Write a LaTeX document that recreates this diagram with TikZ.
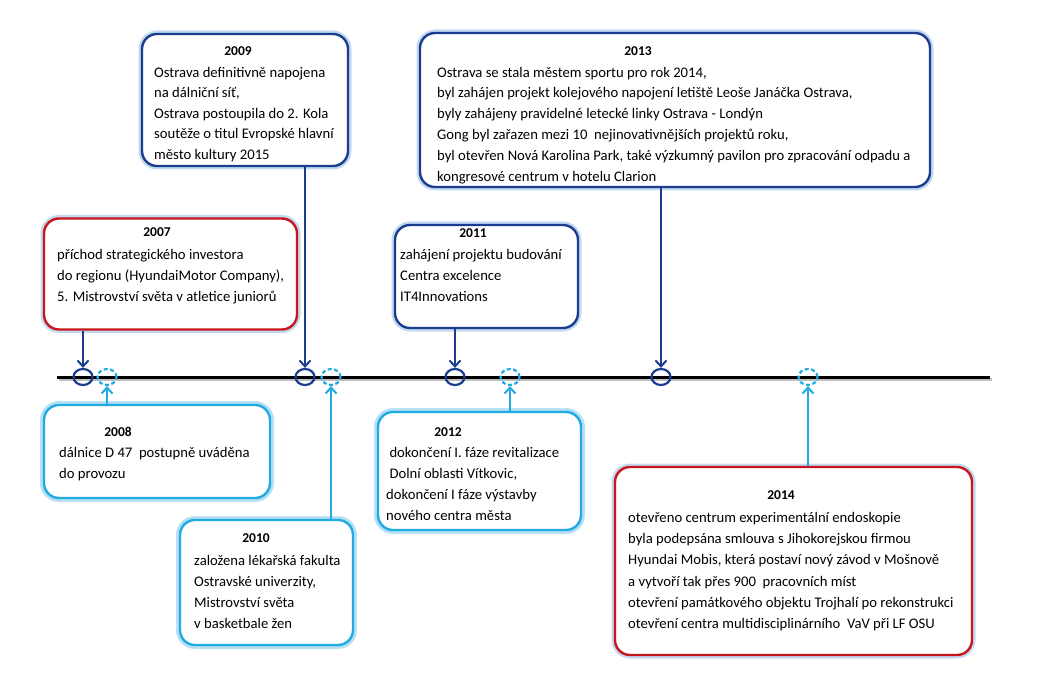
\documentclass[tikz,border=0pt]{standalone}
\usepackage{fontspec}
\setmainfont{Carlito}
\usetikzlibrary{arrows.meta,shapes.geometric}
\definecolor{dblue}{HTML}{1B3C8F}
\definecolor{lblue}{HTML}{22AAE2}
\definecolor{bred}{HTML}{C8161D}
\definecolor{glow}{HTML}{A9C9EA}
\newcommand{\fl}{\rule{0pt}{12pt}}
\tikzset{
  box/.style={rectangle, rounded corners=15pt, fill=white, line width=2.4pt, inner sep=0pt,
    preaction={draw=glow, line width=7pt, opacity=0.7}},
  dbox/.style={box, draw=dblue},
  cbox/.style={box, draw=lblue, preaction={draw=lblue!35, line width=8pt, opacity=0.8}},
  rbox/.style={box, draw=bred},
  txt/.style={anchor=north west, inner sep=0pt, align=left, font=\fontsize{14.67}{21}\selectfont},
  yr/.style={anchor=center, inner sep=0pt, font=\fontsize{13.5}{15}\selectfont\bfseries},
  dcirc/.style={ellipse, draw=dblue, line width=2.2pt, minimum width=19pt, minimum height=16pt, inner sep=0pt},
  ccirc/.style={ellipse, draw=lblue, line width=2.2pt, dash pattern=on 4pt off 2.5pt, minimum width=19pt, minimum height=16pt, inner sep=0pt},
  darr/.style={draw=dblue, line width=2.4pt, -{Straight Barb[length=6pt,width=11pt,line width=2pt]}},
  carr/.style={draw=lblue, line width=2.4pt, -{Straight Barb[length=6pt,width=11pt,line width=2pt]}},
}
\begin{document}
\begin{tikzpicture}[x=1pt,y=-1pt]
\useasboundingbox (0,0) rectangle (1050,679);
% timeline
\coordinate (ls) at (57,377);
\coordinate (le) at (990,377);
\draw[line width=3pt, gray!50] ([shift={(1.5,2)}]ls) -- ([shift={(1.5,2)}]le);
\draw[line width=3pt, black] (ls) -- (le);
% circles
\node[dcirc] (c2007) at (83,377) {};
\node[ccirc] (c2008) at (107,377) {};
\node[dcirc] (c2009) at (305,377) {};
\node[ccirc] (c2010) at (331,377) {};
\node[dcirc] (c2011) at (455,377) {};
\node[ccirc] (c2012) at (510,377) {};
\node[dcirc] (c2013) at (661,377) {};
\node[ccirc] (c2014) at (808,377) {};
% boxes
\node[rbox, minimum width=253pt, minimum height=111pt] (b2007) at (170.5,274) {};
\node[dbox, minimum width=206pt, minimum height=132pt] (b2009) at (245,100) {};
\node[dbox, minimum width=183pt, minimum height=103pt] (b2011) at (486.5,276.5) {};
\node[dbox, minimum width=510pt, minimum height=154pt] (b2013) at (675,110) {};
\node[cbox, minimum width=226pt, minimum height=93pt] (b2008) at (157,451.5) {};
\node[cbox, minimum width=173pt, minimum height=125pt] (b2010) at (266.5,582.5) {};
\node[cbox, minimum width=203pt, minimum height=118pt] (b2012) at (479.5,471) {};
\node[rbox, minimum width=357pt, minimum height=188pt] (b2014) at (793.5,561) {};
% years
\node[yr] (y2007) at (157,232) {2007};
\node[yr] (y2009) at (238,51) {2009};
\node[yr] (y2011) at (473,233) {2011};
\node[yr] (y2013) at (638,51) {2013};
\node[yr] (y2008) at (118,432) {2008};
\node[yr] (y2010) at (256,538) {2010};
\node[yr] (y2012) at (448,432) {2012};
\node[yr] (y2014) at (781,495) {2014};
% texts (first baseline = y + 12)
\node[txt] (t2007) at (57,247) {\fl příchod strategického investora\\do regionu (HyundaiMotor Company),\\5. Mistrovství světa v atletice juniorů};
\node[txt, font=\fontsize{14.67}{20.5}\selectfont] (t2009) at (154,65) {\fl Ostrava definitivně napojena\\na dálniční síť,\\Ostrava postoupila do 2. Kola\\soutěže o titul Evropské hlavní\\město kultury 2015};
\node[txt] (t2011) at (400,247) {\fl zahájení projektu budování\\Centra excelence\\IT4Innovations};
\node[txt, font=\fontsize{14.67}{20.8}\selectfont] (t2013) at (437,65) {\fl Ostrava se stala městem sportu pro rok 2014,\\byl zahájen projekt kolejového napojení letiště Leoše Janáčka Ostrava,\\byly zahájeny pravidelné letecké linky Ostrava - Londýn\\Gong byl zařazen mezi 10 \ nejinovativnějších projektů roku,\\byl otevřen Nová Karolina Park, také výzkumný pavilon pro zpracování odpadu a\\kongresové centrum v hotelu Clarion};
\node[txt] (t2008) at (59,445) {\fl dálnice D 47 \ postupně uváděna\\do provozu};
\node[txt] (t2010) at (194,553) {\fl založena lékařská fakulta\\Ostravské univerzity,\\Mistrovství světa\\v basketbale žen};
\node[txt] (t2012) at (386,445) {\fl\ dokončení I. fáze revitalizace\\\ Dolní oblasti Vítkovic,\\dokončení I fáze výstavby\\nového centra města};
\node[txt, font=\fontsize{14.67}{21.3}\selectfont] (t2014) at (628,510) {\fl otevřeno centrum experimentální endoskopie\\byla podepsána smlouva s Jihokorejskou firmou\\Hyundai Mobis, která postaví nový závod v Mošnově\\a vytvoří tak přes 900 \ pracovních míst\\otevření památkového objektu Trojhalí po rekonstrukci\\otevření centra multidisciplinárního \ VaV při LF OSU};
% arrows
\draw[darr] (b2007.south -| c2007) -- (c2007.north);
\draw[darr] (b2009.south -| c2009) -- (c2009.north);
\draw[darr] (b2011.south -| c2011) -- (c2011.north);
\draw[darr] (b2013.south -| c2013) -- (c2013.north);
\draw[carr] (b2008.north -| c2008) -- (c2008.south);
\draw[carr] (b2010.north -| c2010) -- (c2010.south);
\draw[carr] (b2012.north -| c2012) -- (c2012.south);
\draw[carr] (b2014.north -| c2014) -- (c2014.south);
\end{tikzpicture}
\end{document}
